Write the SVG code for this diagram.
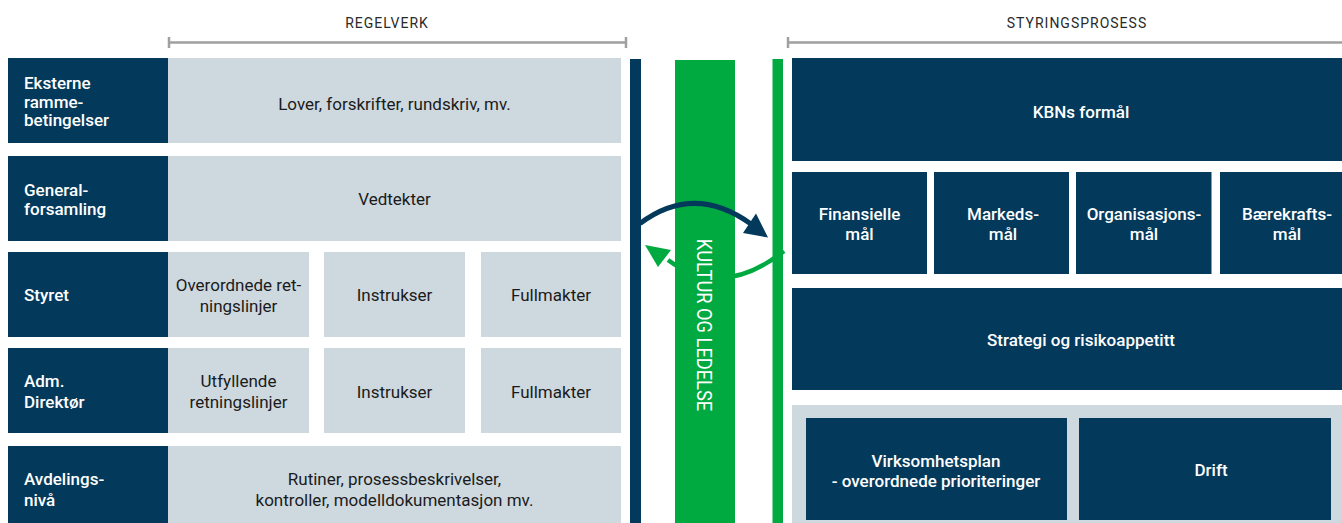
<svg xmlns="http://www.w3.org/2000/svg" width="1342" height="523" viewBox="0 0 1342 523">
<style>
.dk{fill:#033a5c}
.lt{fill:#cdd8df}
.gr{fill:#00aa41}
.lbl{font-family:Roboto,"Liberation Sans",sans-serif;font-size:17px;font-weight:500;fill:#ffffff}
.txt{font-family:Roboto,"Liberation Sans",sans-serif;font-size:17px;font-weight:400;fill:#1b1b1b;text-anchor:middle}
.wt{font-family:Roboto,"Liberation Sans",sans-serif;font-size:17px;font-weight:500;fill:#ffffff;text-anchor:middle}
.hdr{font-family:Roboto,"Liberation Sans",sans-serif;font-size:14px;font-weight:400;fill:#2a2a2a;text-anchor:middle;letter-spacing:1px}
.br{stroke:#a0a0a0;stroke-width:2.5;fill:none}
.vt{font-family:Roboto,"Liberation Sans",sans-serif;font-size:21px;font-weight:400;fill:#ffffff;text-anchor:middle}
</style>
<rect width="1342" height="523" fill="#ffffff"/>

<g id="header-regelverk">
<text class="hdr" x="387" y="28">REGELVERK</text>
<path class="br" d="M169 42.5H626M169 37V48M626 37V48"/>
</g>
<g id="header-styringsprosess">
<text class="hdr" x="1077" y="28">STYRINGSPROSESS</text>
<path class="br" d="M788 42.5H1342M788 37V48"/>
</g>

<g id="row-eksterne">
<rect class="dk" x="8" y="58" width="160" height="85"/>
<rect class="lt" x="168" y="58" width="453" height="85"/>
<text class="lbl" x="24" y="89">Eksterne</text>
<text class="lbl" x="24" y="107.5">ramme-</text>
<text class="lbl" x="24" y="126">betingelser</text>
<text class="txt" x="394.5" y="110">Lover, forskrifter, rundskriv, mv.</text>
</g>

<g id="row-generalforsamling">
<rect class="dk" x="8" y="156" width="160" height="85"/>
<rect class="lt" x="168" y="156" width="453" height="85"/>
<text class="lbl" x="24" y="195.5">General-</text>
<text class="lbl" x="24" y="215">forsamling</text>
<text class="txt" x="394.5" y="205">Vedtekter</text>
</g>

<g id="row-styret">
<rect class="dk" x="8" y="252" width="160" height="85"/>
<rect class="lt" x="168" y="252" width="141" height="85"/>
<rect class="lt" x="324" y="252" width="141" height="85"/>
<rect class="lt" x="481" y="252" width="140" height="85"/>
<text class="lbl" x="24" y="301">Styret</text>
<text class="txt" x="238.5" y="291">Overordnede ret-</text>
<text class="txt" x="238.5" y="312">ningslinjer</text>
<text class="txt" x="394.5" y="301">Instrukser</text>
<text class="txt" x="551" y="301">Fullmakter</text>
</g>

<g id="row-adm">
<rect class="dk" x="8" y="348" width="160" height="85"/>
<rect class="lt" x="168" y="348" width="141" height="85"/>
<rect class="lt" x="324" y="348" width="141" height="85"/>
<rect class="lt" x="481" y="348" width="140" height="85"/>
<text class="lbl" x="24" y="387">Adm.</text>
<text class="lbl" x="24" y="408">Direktør</text>
<text class="txt" x="238.5" y="387">Utfyllende</text>
<text class="txt" x="238.5" y="408">retningslinjer</text>
<text class="txt" x="394.5" y="398">Instrukser</text>
<text class="txt" x="551" y="398">Fullmakter</text>
</g>

<g id="row-avdeling">
<rect class="dk" x="8" y="446" width="160" height="77"/>
<rect class="lt" x="168" y="446" width="453" height="77"/>
<text class="lbl" x="24" y="485">Avdelings-</text>
<text class="lbl" x="24" y="506">nivå</text>
<text class="txt" x="394.5" y="485">Rutiner, prosessbeskrivelser,</text>
<text class="txt" x="394.5" y="506">kontroller, modelldokumentasjon mv.</text>
</g>

<g id="bar-regelverk">
<rect class="dk" x="630" y="59" width="11" height="464"/>
</g>
<g id="kultur-og-ledelse">
<rect class="gr" x="675" y="60" width="60" height="463"/>
</g>
<g id="bar-styring">
<rect class="gr" x="772.5" y="59" width="10.5" height="464"/>
</g>

<g id="kbns-formal">
<rect class="dk" x="792" y="58" width="550" height="103"/>
<text class="wt" x="1081" y="117.5">KBNs formål</text>
</g>

<g id="finansielle-mal">
<rect class="dk" x="792" y="172" width="135" height="102"/>
<text class="wt" x="859.5" y="220">Finansielle</text>
<text class="wt" x="859.5" y="240">mål</text>
</g>
<g id="markeds-mal">
<rect class="dk" x="934" y="172" width="135" height="102"/>
<text class="wt" x="1003" y="220">Markeds-</text>
<text class="wt" x="1003" y="240">mål</text>
</g>
<g id="organisasjons-mal">
<rect class="dk" x="1076" y="172" width="135.5" height="102"/>
<text class="wt" x="1144" y="220">Organisasjons-</text>
<text class="wt" x="1144" y="240">mål</text>
</g>
<g id="baerekrafts-mal">
<rect class="dk" x="1220" y="172" width="122" height="102"/>
<text class="wt" x="1287" y="220">Bærekrafts-</text>
<text class="wt" x="1287" y="240">mål</text>
</g>

<g id="strategi">
<rect class="dk" x="792" y="288" width="550" height="102"/>
<text class="wt" x="1081" y="346">Strategi og risikoappetitt</text>
</g>

<g id="gjennomforing">
<rect class="lt" x="792" y="405" width="550" height="118"/>
</g>
<g id="virksomhetsplan">
<rect class="dk" x="806" y="418" width="261" height="102"/>
<text class="wt" x="936" y="467">Virksomhetsplan</text>
<text class="wt" x="936" y="487">- overordnede prioriteringer</text>
</g>
<g id="drift">
<rect class="dk" x="1079" y="418" width="252" height="102"/>
<text class="wt" x="1211" y="476">Drift</text>
</g>

<g id="connectors">
<path d="M784 251 Q722 300 668 260" fill="none" stroke="#00aa41" stroke-width="4.5"/>
<polygon points="645,245 658,267 671,250" fill="#00aa41"/>
<path d="M640 223.5 Q694 183 751 224" fill="none" stroke="#033a5c" stroke-width="5"/>
<polygon points="743,233 756,213.5 768,237.5" fill="#033a5c"/>
</g>

<g id="kultur-og-ledelse-label">
<text class="vt" transform="translate(704.5,325) rotate(90) scale(0.87,1)" x="0" y="7.5">KULTUR OG LEDELSE</text>
</g>
</svg>
